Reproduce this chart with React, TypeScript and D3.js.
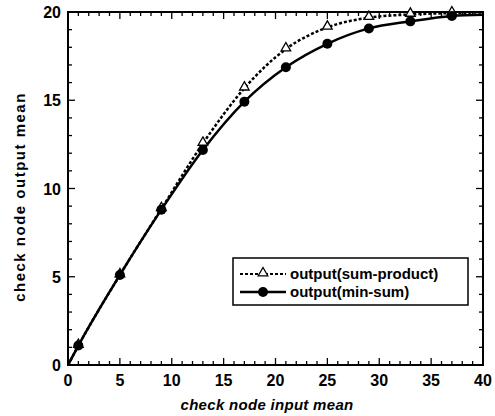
import React from "react";
import * as d3 from "d3";

// x positions of the markers
const inputMean = [0, 1, 5, 9, 13, 17, 21, 25, 29, 33, 37, 40];
const sumProduct = [0, 1.1, 5.1, 8.85, 12.55, 15.68, 17.9, 19.13, 19.68, 19.86, 19.94, 19.98];
const minSum = [0, 1.1, 5.1, 8.8, 12.18, 14.92, 16.87, 18.2, 19.07, 19.47, 19.78, 19.85];
const markerIdx = [1, 2, 3, 4, 5, 6, 7, 8, 9, 10];
const xTicks = [0, 5, 10, 15, 20, 25, 30, 35, 40];
const yTicks = [0, 5, 10, 15, 20];
const legendLabels = ["output(sum-product)", "output(min-sum)"];

const W = 495;
const H = 416;
const m = { left: 68, right: 483, top: 12, bottom: 365 };

export default function App() {
  const x = d3.scaleLinear().domain([0, 40]).range([m.left, m.right]);
  const y = d3.scaleLinear().domain([0, 20]).range([m.bottom, m.top]);
  const line = (vals: number[]) =>
    d3
      .line<number>()
      .x((_, i) => x(inputMean[i]))
      .y((v) => y(v))
      .curve(d3.curveMonotoneX)(vals) as string;

  const xMinor = d3.range(0, 41, 1);
  const yMinor = d3.range(0, 21, 1);
  const tri = d3.symbol(d3.symbolTriangle, 40)() as string;
  const font = "'Liberation Sans', Arial, sans-serif";

  return (
    <svg width={W} height={H} style={{ position: "absolute", left: 0, top: 0, background: "#fff" }}>
      <g stroke="#000" strokeWidth={1.3}>
        {xMinor.map((t) => {
          const len = t % 5 === 0 ? 7 : 4;
          return (
            <g key={"x" + t}>
              <line x1={x(t)} x2={x(t)} y1={m.bottom} y2={m.bottom - len} />
              <line x1={x(t)} x2={x(t)} y1={m.top} y2={m.top + len} />
            </g>
          );
        })}
        {yMinor.map((t) => {
          const len = t % 5 === 0 ? 7 : 4;
          return (
            <g key={"y" + t}>
              <line x1={m.left} x2={m.left + len} y1={y(t)} y2={y(t)} />
              <line x1={m.right} x2={m.right - len} y1={y(t)} y2={y(t)} />
            </g>
          );
        })}
      </g>
      <rect
        x={m.left}
        y={m.top}
        width={m.right - m.left}
        height={m.bottom - m.top}
        fill="none"
        stroke="#000"
        strokeWidth={2}
      />
      <g fontFamily={font} fontWeight="bold" fontSize={16} fill="#000">
        {xTicks.map((t) => (
          <text key={t} x={x(t)} y={m.bottom + 21} textAnchor="middle">
            {t}
          </text>
        ))}
        {yTicks.map((t) => (
          <text key={t} x={m.left - 7} y={y(t) + 6} textAnchor="end">
            {t}
          </text>
        ))}
      </g>
      <text
        x={267}
        y={410}
        textAnchor="middle"
        fontFamily={font}
        fontWeight="bold"
        fontStyle="italic"
        fontSize={15}
        letterSpacing={0.3}
      >
        check node input mean
      </text>
      <text
        transform={`translate(25,197) rotate(-90)`}
        textAnchor="middle"
        fontFamily={font}
        fontWeight="bold"
        fontSize={15}
        letterSpacing={1.5}
      >
        check node output mean
      </text>

      <path d={line(sumProduct)} fill="none" stroke="#000" strokeWidth={2.5} strokeDasharray="3,2" />
      <path d={line(minSum)} fill="none" stroke="#000" strokeWidth={2.5} />
      {markerIdx.map((i) => (
        <path
          key={"t" + i}
          d={tri}
          transform={`translate(${x(inputMean[i])},${y(sumProduct[i]) - 1})`}
          fill="#fff"
          stroke="#000"
          strokeWidth={1.3}
        />
      ))}
      {markerIdx.map((i) => (
        <circle key={"c" + i} cx={x(inputMean[i])} cy={y(minSum[i])} r={5} fill="#000" />
      ))}

      <g>
        <rect x={233} y={258} width={235} height={47} fill="#fff" stroke="#000" strokeWidth={1.5} />
        <line x1={240} x2={286} y1={274} y2={274} stroke="#000" strokeWidth={2} strokeDasharray="3,2" />
        <path d={tri} transform="translate(263,273)" fill="#fff" stroke="#000" strokeWidth={1.3} />
        <line x1={240} x2={286} y1={292} y2={292} stroke="#000" strokeWidth={2.5} />
        <circle cx={263} cy={292} r={5} fill="#000" />
        {legendLabels.map((l, i) => (
          <text key={l} x={290} y={279 + i * 18} fontFamily={font} fontWeight="bold" fontSize={15}>
            {l}
          </text>
        ))}
      </g>
    </svg>
  );
}
